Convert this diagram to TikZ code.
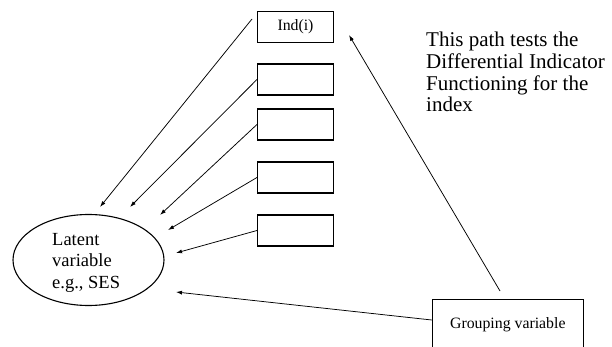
\documentclass[tikz,border=0pt]{standalone}
\usepackage{fontspec}
\setmainfont{Liberation Serif}
\usetikzlibrary{arrows.meta,shapes.geometric}
\begin{document}
\begin{tikzpicture}[x=1pt,y=-1pt,
  indbox/.style={draw,line width=1.1pt,minimum width=76pt,minimum height=31pt,inner sep=0pt,font=\fontsize{15.8}{18}\selectfont},
  conn/.style={line width=0.75pt,-{Latex[length=6pt,width=4pt]}}]
\useasboundingbox (0,0) rectangle (612,347);
\clip (0,0) rectangle (612,347);
% latent variable
\node[draw,ellipse,line width=1.1pt,minimum width=151pt,minimum height=91pt,inner sep=0pt] (lat) at (88.5,260) {};
\node[anchor=base west,align=left,inner sep=0pt,font=\fontsize{18.5}{21.5}\selectfont] (lattxt) at (52,288) {Latent\\variable\\e.g., SES};
% indicator boxes
\node[indbox] (b1) at (295.5,27) {Ind(i)};
\node[indbox] (b2) at (295.5,79.5) {};
\node[indbox] (b3) at (295.5,124.5) {};
\node[indbox] (b4) at (295.5,177.5) {};
\node[indbox] (b5) at (295.5,230.5) {};
% grouping variable box
\node[draw,line width=1.1pt,anchor=north,minimum width=151pt,inner xsep=0pt,inner ysep=18pt,text height=11pt,text depth=40pt,font=\fontsize{15.8}{18}\selectfont] (grp) at (507.8,299) {Grouping variable};
% annotation text
\node[anchor=base west,align=left,inner sep=0pt,font=\fontsize{21}{21.7}\selectfont] (note) at (426,112) {This path tests the\\Differential Indicator\\Functioning for the\\index};
% free ends
\coordinate (s1) at (252,19);
\coordinate (s7) at (500,291);
\coordinate (e1) at (100,207);
\coordinate (e2) at (130,207);
\coordinate (e3) at (160,215);
\coordinate (e4) at (168,230);
\coordinate (e5) at (176,253);
\coordinate (e6) at (176,292);
\coordinate (e7) at (349,35);
% connectors
\draw[conn] (s1) -- (e1);
\draw[conn] (b2.west) -- (e2);
\draw[conn] (b3.west) -- (e3);
\draw[conn] (b4.west) -- (e4);
\draw[conn] (b5.west) -- (e5);
\draw[conn] (grp.west |- 0,320) -- (e6);
\draw[conn] (s7) -- (e7);
\end{tikzpicture}
\end{document}
